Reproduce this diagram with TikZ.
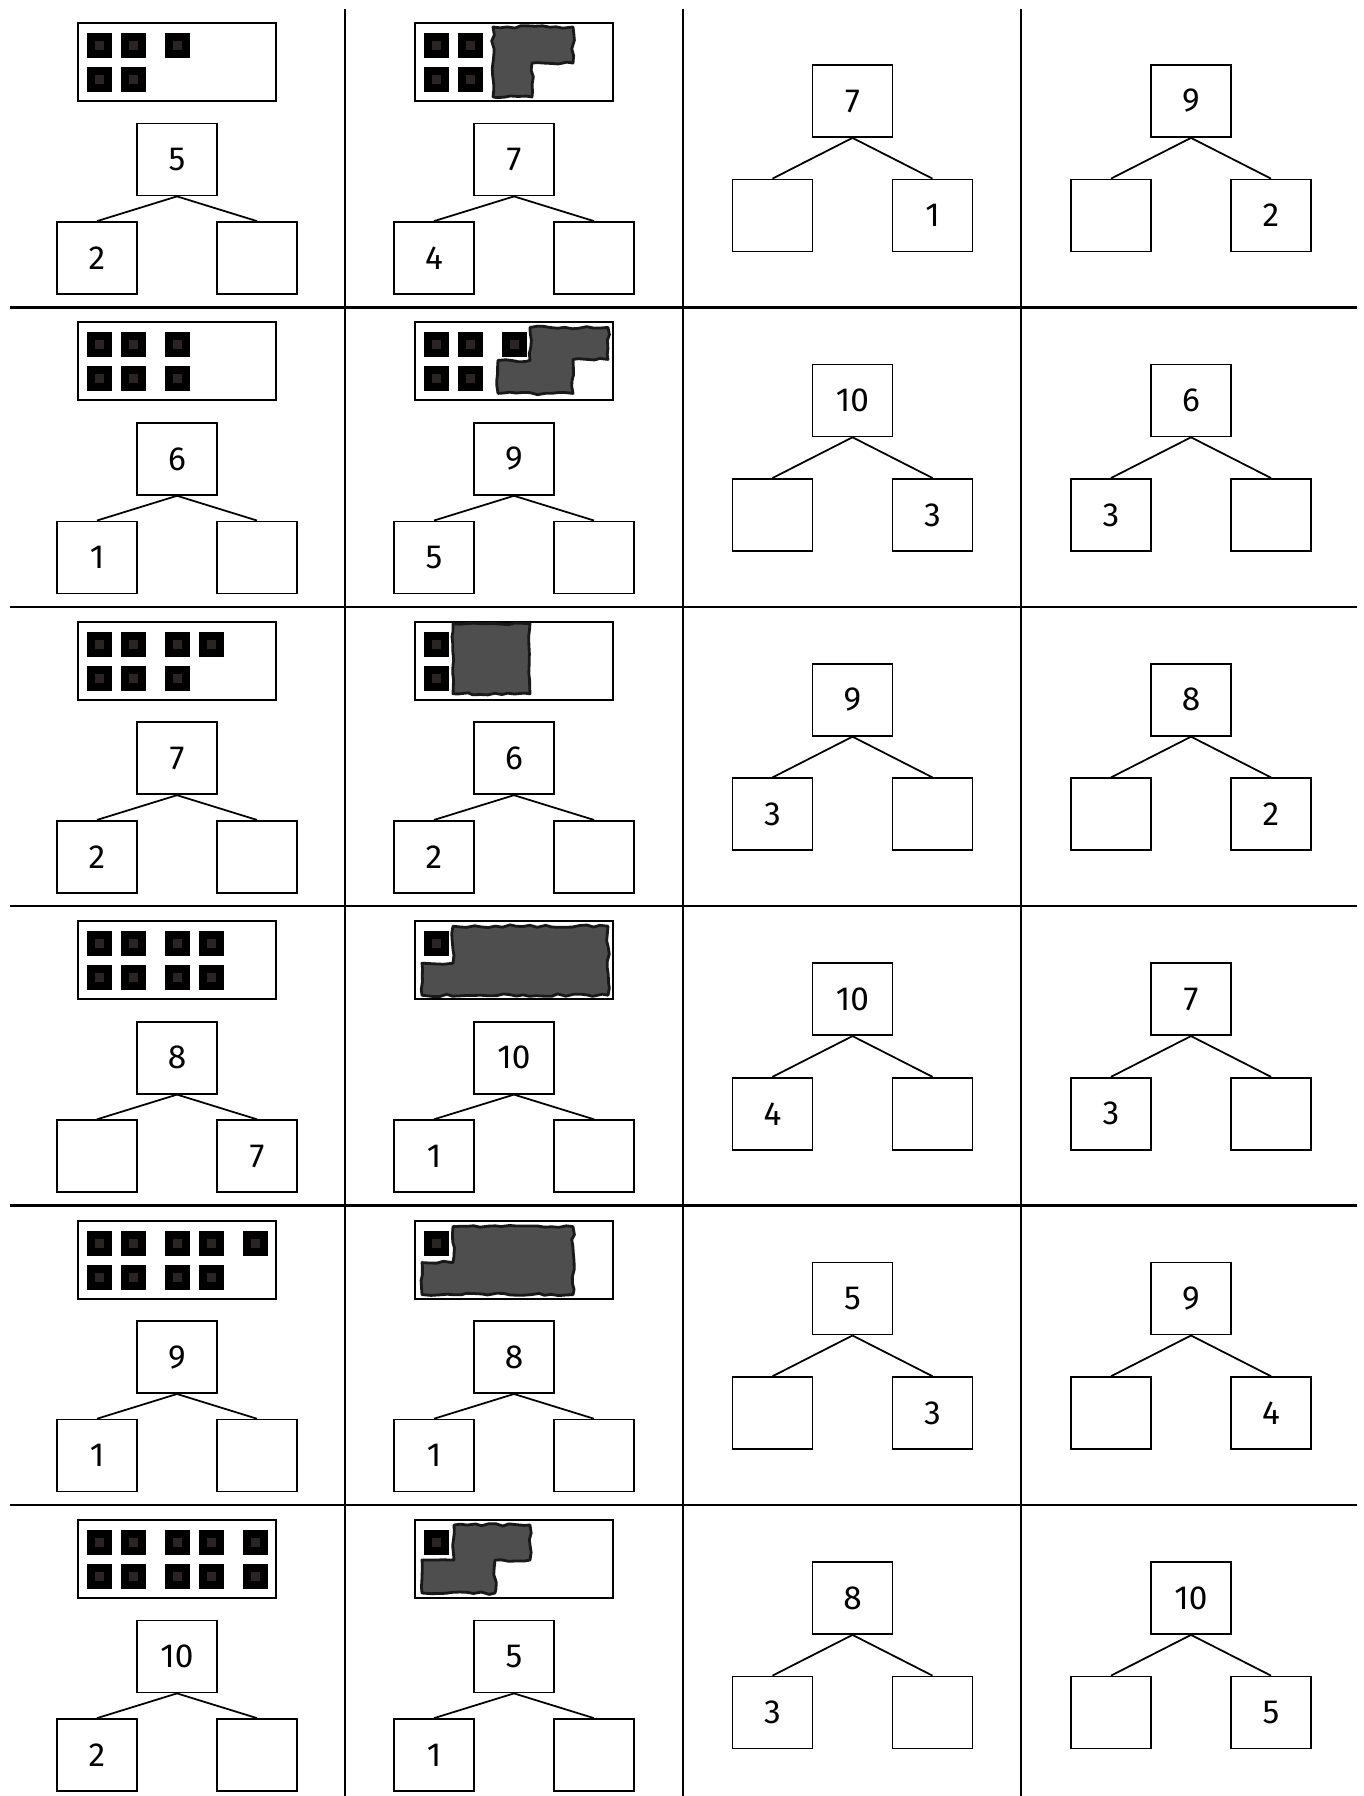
\documentclass[tikz,border=0pt]{standalone}
\usepackage{fontspec}
\setmainfont{Fira Sans}
\usepackage{xcolor}
\usepackage{tikz}
\usetikzlibrary{positioning,decorations.pathmorphing}
\definecolor{CoverGrey}{HTML}{4E4E4E}
\definecolor{DotCore}{HTML}{2A2424}

\begin{document}
\begin{tikzpicture}[
  x=0.1mm, y=-0.1mm,
  numbox/.style={draw, line width=0.5pt, minimum width=8mm, minimum height=7.2mm, inner sep=0pt, font=\fontsize{9.5}{11}\selectfont},
  leg/.style={line width=0.5pt},
  tenframe/.style={draw, line width=0.55pt},
  cover/.style={fill=CoverGrey, draw=black!90, line width=0.8pt, line join=round,
    decorate, decoration={random steps, segment length=2pt, amplitude=0.4pt}},
  rule/.style={line width=0.65pt},
  counter/.pic={\fill[black] (0,0) rectangle (25,25); \fill[DotCore] (8,8) rectangle (17,17);}
]
  \pgfmathsetseed{42}
  \useasboundingbox (0,0) rectangle (1363,1796);
  \fill[white] (0,0) rectangle (1363,1796);

  % table rules
  \foreach \gx in {345,683,1021}
    \draw[rule] (\gx,9) -- (\gx,1796);
  \foreach \gy in {307.4,606.8,906.2,1205.6,1505}
    \draw[rule] (10,\gy) -- (1357,\gy);

  % number bonds
  \foreach \row/\col/\whole/\partA/\partB in {
      1/1/5/2/{}, 1/2/7/4/{}, 1/3/7/{}/1, 1/4/9/{}/2,
      2/1/6/1/{}, 2/2/9/5/{}, 2/3/10/{}/3, 2/4/6/3/{},
      3/1/7/2/{}, 3/2/6/2/{}, 3/3/9/3/{}, 3/4/8/{}/2,
      4/1/8/{}/7, 4/2/10/1/{}, 4/3/10/4/{}, 4/4/7/3/{},
      5/1/9/1/{}, 5/2/8/1/{}, 5/3/5/{}/3, 5/4/9/{}/4,
      6/1/10/2/{}, 6/2/5/1/{}, 6/3/8/3/{}, 6/4/10/{}/5}{
    \pgfmathsetmacro\cx{{177,514,852.5,1191}[\col-1]}
    \pgfmathsetmacro\ry{8+299.4*(\row-1)}
    \pgfmathsetmacro\wy{\ry+(\col<3 ? 151.5 : 93)}
    \pgfmathsetmacro\py{\ry+(\col<3 ? 250 : 207.5)}
    \node[numbox] (w\row\col) at (\cx,\wy) {\whole};
    \node[numbox] (a\row\col) at (\cx-80,\py) {\partA};
    \node[numbox] (b\row\col) at (\cx+80,\py) {\partB};
    \draw[leg] (w\row\col.south) -- (a\row\col.north);
    \draw[leg] (w\row\col.south) -- (b\row\col.north);
  }

  % ten frames, counters in view
  \foreach \fx/\row/\ta/\tb in {
      78/1/3/2, 78/2/3/3, 78/3/4/3, 78/4/4/4, 78/5/5/4, 78/6/5/5,
      415/1/2/2, 415/2/3/2, 415/3/1/1, 415/4/1/0, 415/5/1/0, 415/6/1/0}{
    \begin{scope}[shift={(\fx,{23+299.4*(\row-1)})}]
      \draw[tenframe] (0,0) rectangle (198,78);
      \foreach \k in {1,...,\ta}{
        \pgfmathsetmacro\sx{{9,43,87,121,165}[\k-1]}
        \pic at (\sx,10) {counter};
      }
      \ifnum\tb>0
        \foreach \k in {1,...,\tb}{
          \pgfmathsetmacro\sx{{9,43,87,121,165}[\k-1]}
          \pic at (\sx,44) {counter};
        }
      \fi
    \end{scope}
  }

  % hidden counters
  \begin{scope}[shift={(415,23)}]
    \draw[cover] (78,4) -- (158,4) -- (158,40) -- (117,40) -- (117,74) -- (78,74) -- cycle;
  \end{scope}
  \begin{scope}[shift={(415,322.4)}]
    \draw[cover] (115,5) -- (193,5) -- (193,37) -- (158,37) -- (158,71) -- (83,71) -- (83,38) -- (115,38) -- cycle;
  \end{scope}
  \begin{scope}[shift={(415,621.8)}]
    \draw[cover] (38,2) -- (115,2) -- (115,72) -- (38,72) -- cycle;
  \end{scope}
  \begin{scope}[shift={(415,921.2)}]
    \draw[cover] (38,5) -- (193,5) -- (193,74) -- (7,74) -- (7,42) -- (38,42) -- cycle;
  \end{scope}
  \begin{scope}[shift={(415,1220.6)}]
    \draw[cover] (38,6) -- (158,6) -- (158,74) -- (7,74) -- (7,42) -- (38,42) -- cycle;
  \end{scope}
  \begin{scope}[shift={(415,1520)}]
    \draw[cover] (39,5) -- (115,5) -- (115,40) -- (80,40) -- (80,73) -- (7,73) -- (7,40) -- (39,40) -- cycle;
  \end{scope}
\end{tikzpicture}
\end{document}
